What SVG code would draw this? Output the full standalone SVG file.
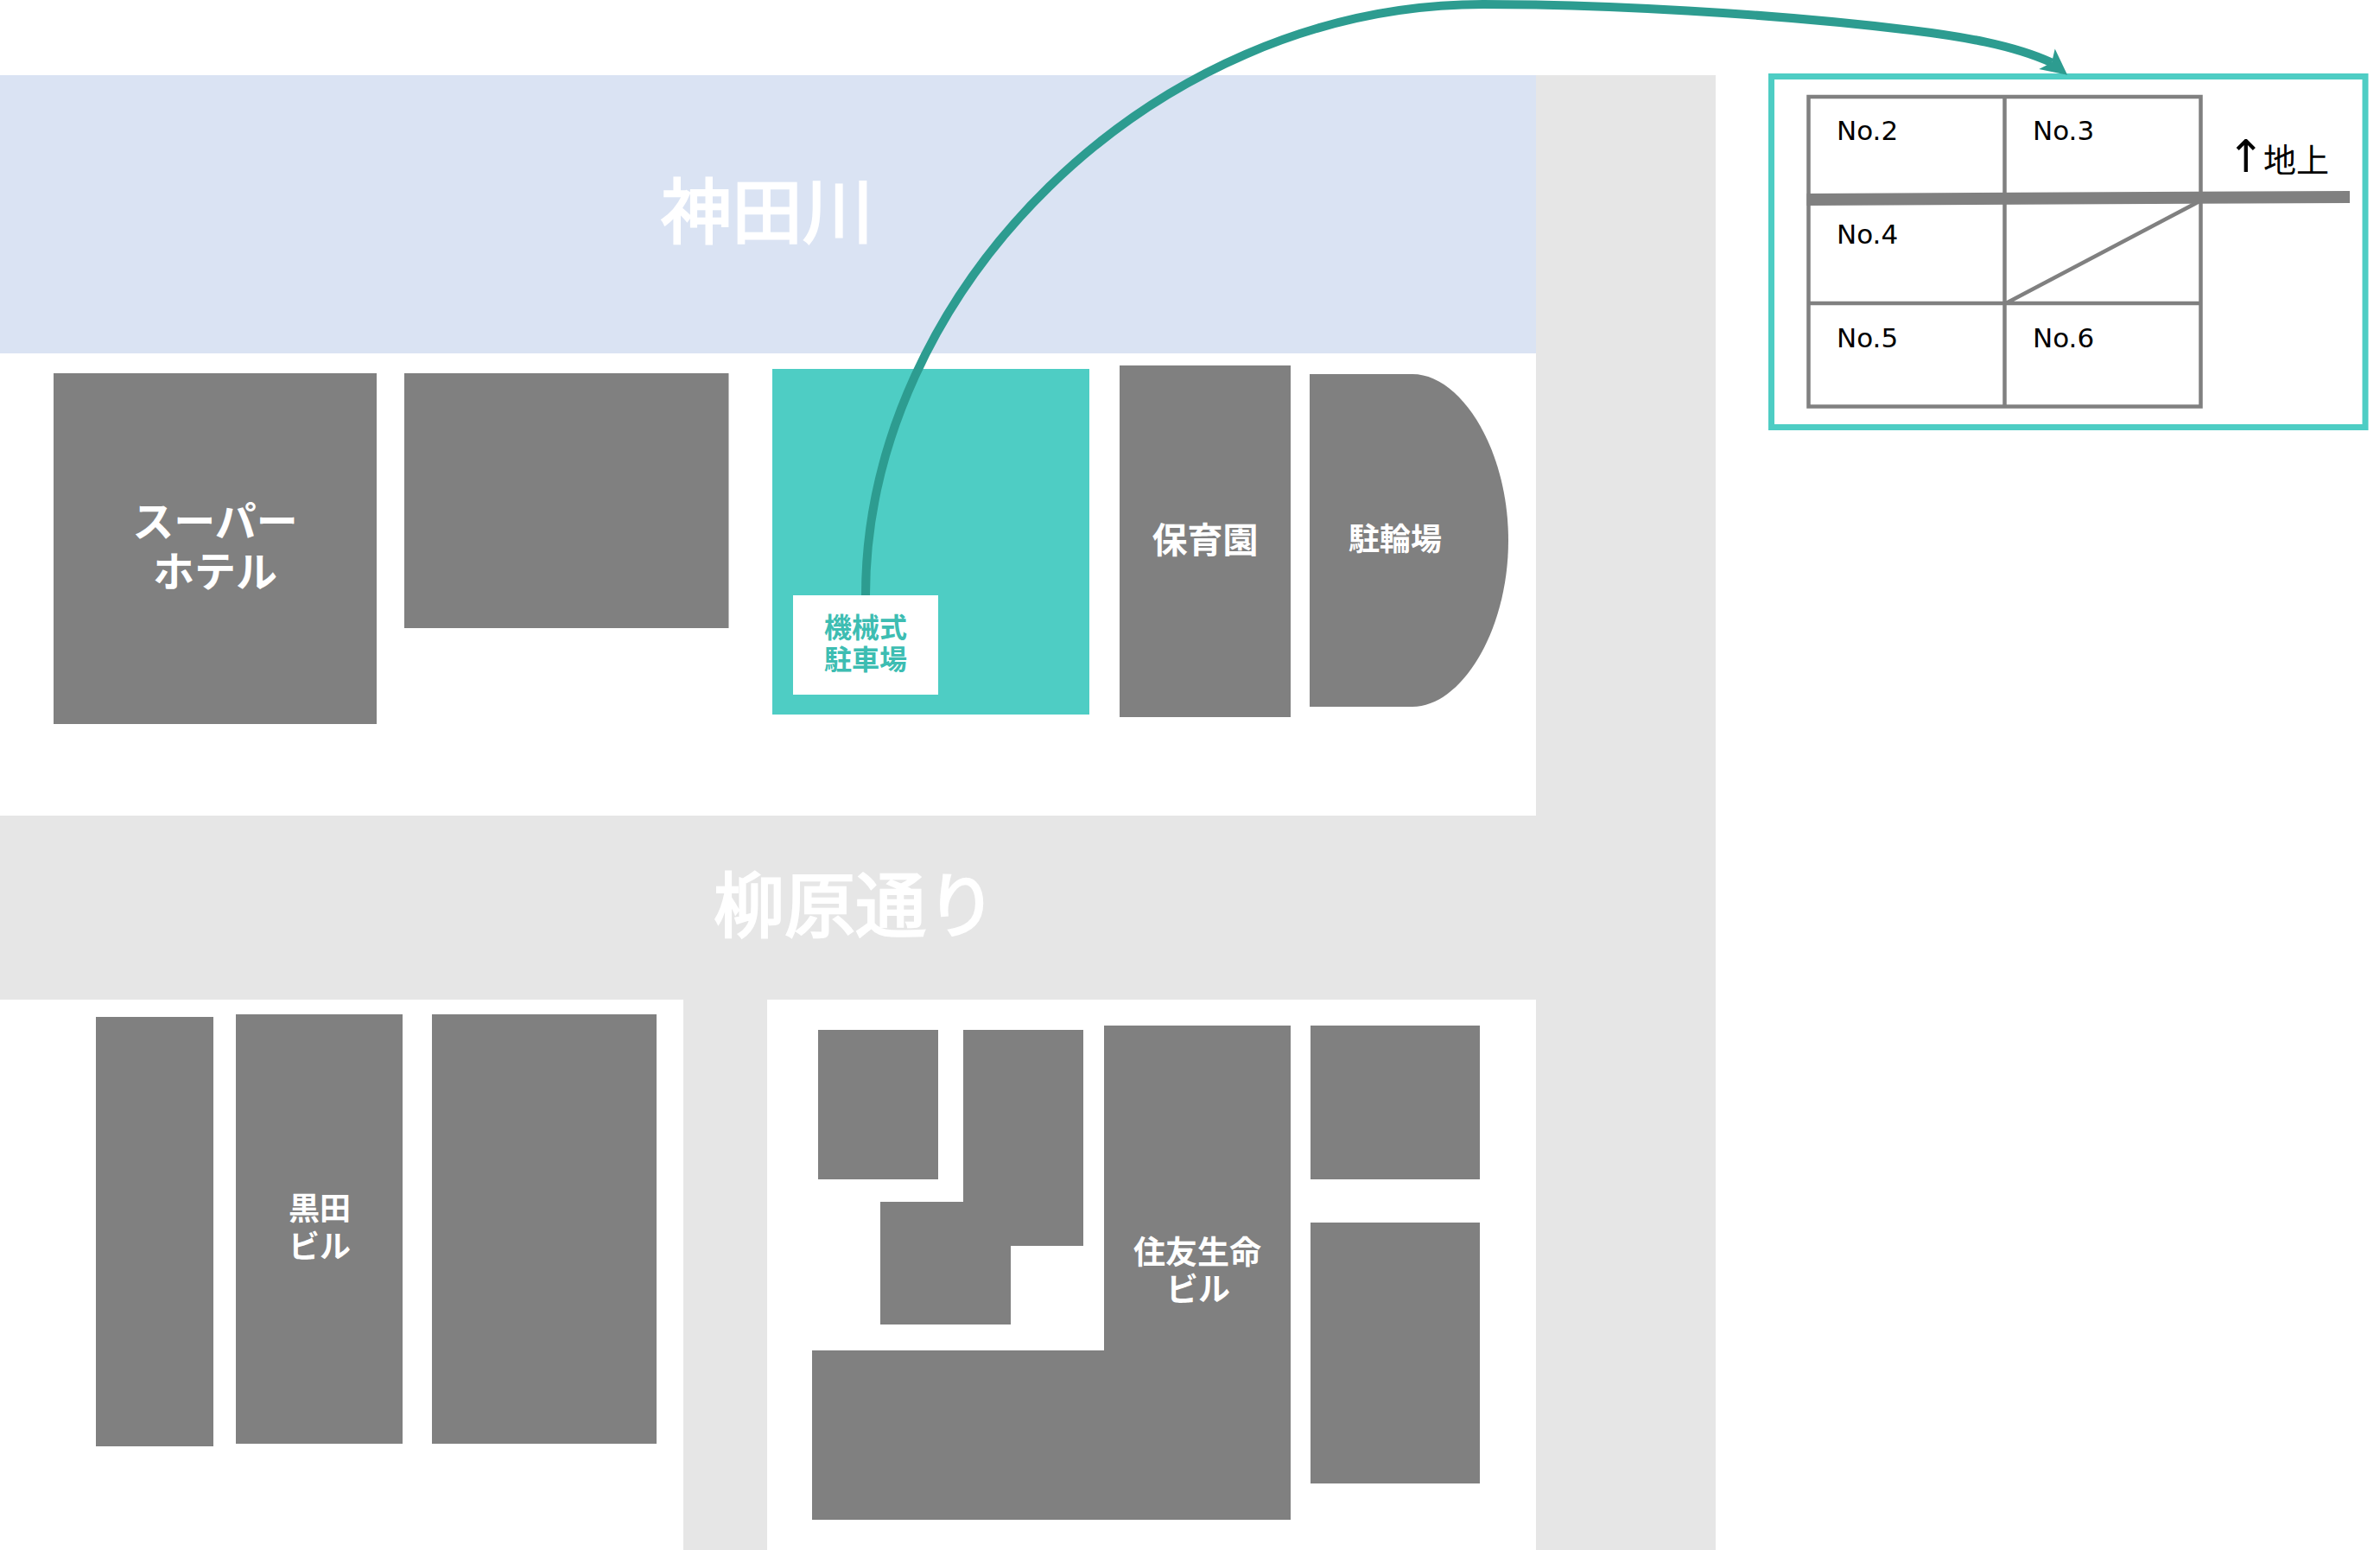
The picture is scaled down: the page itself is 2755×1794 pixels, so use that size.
<svg xmlns="http://www.w3.org/2000/svg" width="2755" height="1794" viewBox="0 0 2755 1794">
<style>
text{font-family:"DejaVu Sans","Noto Sans CJK JP",sans-serif;text-anchor:middle}
.b{fill:#808080}
.r{fill:#e6e6e6}
.w{fill:#fff;font-weight:700;font-family:"Noto Sans CJK JP",sans-serif}
.big{fill:#fff;stroke:#fff;stroke-width:2.500;font-size:82px;font-family:"Noto Sans CJK JP",sans-serif;font-weight:400}
.g{fill:none;stroke:#808080;stroke-width:4.500}
.n{font-size:31px;fill:#000;text-anchor:start}
.p{font-size:32px;font-weight:700;fill:#3dbdb2;font-family:"Noto Sans CJK JP",sans-serif}
.u{font-size:38px;fill:#000;text-anchor:start}
.u tspan{font-size:52px}
.u tspan+tspan{font-size:38px;font-family:"Noto Sans CJK JP",sans-serif}
</style>
<defs>
<marker id="ah" markerUnits="userSpaceOnUse" markerWidth="34" markerHeight="34" refX="7" refY="15" orient="38" overflow="visible"><path d="M30,15L0,0L7,15L0,30Z" fill="#2d9c90"/></marker>
</defs>
<rect width="2755" height="1794" fill="#fff"/>
<g id="roads">
<rect class="r" x="1778" y="87" width="208" height="1707"/>
<rect class="r" x="0" y="944" width="1778" height="213"/>
<rect class="r" x="791" y="1157" width="97" height="637"/>
</g>
<g id="river"><rect x="0" y="87" width="1778" height="322" fill="#dae3f3"/><text class="big" x="888" y="275">神田川</text></g>
<text id="street" class="big" x="990" y="1078">柳原通り</text>
<g id="super"><rect class="b" x="62" y="432" width="374" height="406"/><text class="w" font-size="48" x="249" y="621">スーパー</text><text class="w" font-size="48" x="249" y="679">ホテル</text></g>
<g id="building-2"><rect class="b" x="468" y="432" width="375.500" height="295"/></g>
<g id="parking"><rect x="894" y="427" width="367" height="400" fill="#4ecdc4"/></g>
<g id="hoikuen"><rect class="b" x="1296" y="423" width="198" height="407"/><text class="w" font-size="41" x="1395" y="640">保育園</text></g>
<g id="bike"><path class="b" d="M1516,433H1635C1691,433 1746,520 1746,625.500C1746,731 1691,818 1635,818H1516Z"/><text class="w" font-size="36" x="1615" y="637">駐輪場</text></g>
<g id="b-left"><rect class="b" x="111" y="1177" width="136" height="497"/></g>
<g id="kuroda"><rect class="b" x="273" y="1174" width="193" height="497"/><text class="w" font-size="36" x="370" y="1412">黒田</text><text class="w" font-size="36" x="370" y="1456">ビル</text></g>
<g id="b-right"><rect class="b" x="500" y="1174" width="260" height="497"/></g>
<g id="b-a"><rect class="b" x="947" y="1192" width="139" height="173"/></g>
<g id="b-l"><path class="b" d="M1115,1192H1254V1442H1170V1533H1019V1391H1115Z"/></g>
<g id="sumitomo"><path class="b" d="M1278,1187H1494V1759H940V1563H1278Z"/><text class="w" font-size="37" x="1386" y="1463">住友生命</text><text class="w" font-size="37" x="1387" y="1506">ビル</text></g>
<g id="b-r1"><rect class="b" x="1517" y="1187" width="196" height="178"/></g>
<g id="b-r2"><rect class="b" x="1517" y="1415" width="196" height="302"/></g>
<g id="inset">
<rect x="2050.500" y="88.500" width="687.500" height="406" fill="#fff" stroke="#4ecdc4" stroke-width="7"/>
<path class="g" d="M2093.500,112H2547.500V470.500H2093.500ZM2320.500,112V470.500M2093.500,351H2547.500M2322,351L2546,233"/>
<path d="M2091.500,231L2720,228" stroke="#808080" stroke-width="14" fill="none"/>
<text class="n" x="2126" y="162">No.2</text><text class="n" x="2353" y="162">No.3</text>
<text class="n" x="2126" y="282">No.4</text><text class="n" x="2126" y="402">No.5</text><text class="n" x="2353" y="402">No.6</text>
<text class="u" x="2578" y="199"><tspan>↑</tspan><tspan x="2620">地上</tspan></text>
</g>
<g id="connectors"><path d="M1002,689C1002,340 1330,5 1717,5C1850,5 2050,15 2212,35C2270,42 2330,52 2375,72.600" fill="none" stroke="#2d9c90" stroke-width="10" marker-end="url(#ah)"/></g>
<g id="parking-label"><rect x="918" y="689" width="168" height="115" fill="#fff"/><text class="p" x="1002" y="738">機械式</text><text class="p" x="1002" y="775">駐車場</text></g>
</svg>
